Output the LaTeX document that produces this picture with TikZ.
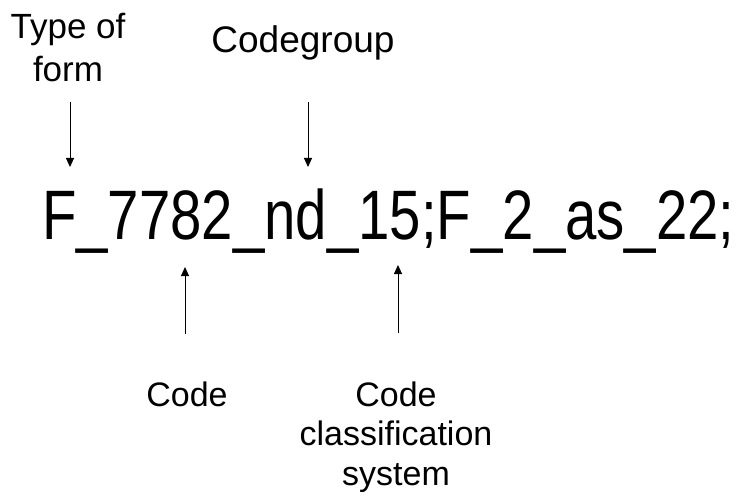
\documentclass[tikz,border=0pt]{standalone}
\usepackage{fontspec}
\setmainfont{Liberation Sans}
\usetikzlibrary{arrows.meta}
\begin{document}
\begin{tikzpicture}[x=1pt,y=-1pt,
  lbl/.style={inner sep=0pt, align=center, font=\fontsize{35}{43}\selectfont},
  lblb/.style={inner sep=0pt, align=center, font=\fontsize{34}{39.5}\selectfont},
  arr/.style={line width=1pt, -{Triangle[length=9pt,width=8pt]}}]
\useasboundingbox (0,0) rectangle (736,497);
\node[lbl, anchor=base] (tf) at (68,82) {Type of\\form};
\node[lbl, anchor=base, font=\fontsize{37}{43}\selectfont] (cg) at (303,53) {Codegroup};
\node[inner sep=0pt, anchor=base west] (main) at (42,239)
  {\scalebox{0.805}[1]{\fontsize{70}{80}\selectfont F\_7782\_nd\_15;F\_2\_as\_22;}};
\node[lblb, anchor=base] (cd) at (187,406) {Code};
\node[lblb, anchor=base] (ccs) at (396,485) {Code\\classification\\system};
\coordinate (a1s) at (70,102);
\coordinate (a1e) at (70,167);
\coordinate (a2s) at (308,102);
\coordinate (a2e) at (308,167);
\coordinate (a3s) at (185,334);
\coordinate (a3e) at (185,267);
\coordinate (a4s) at (398,333);
\coordinate (a4e) at (398,265);
\draw[arr] (a1s) -- (a1e);
\draw[arr] (a2s) -- (a2e);
\draw[arr] (a3s) -- (a3e);
\draw[arr] (a4s) -- (a4e);
\end{tikzpicture}
\end{document}
